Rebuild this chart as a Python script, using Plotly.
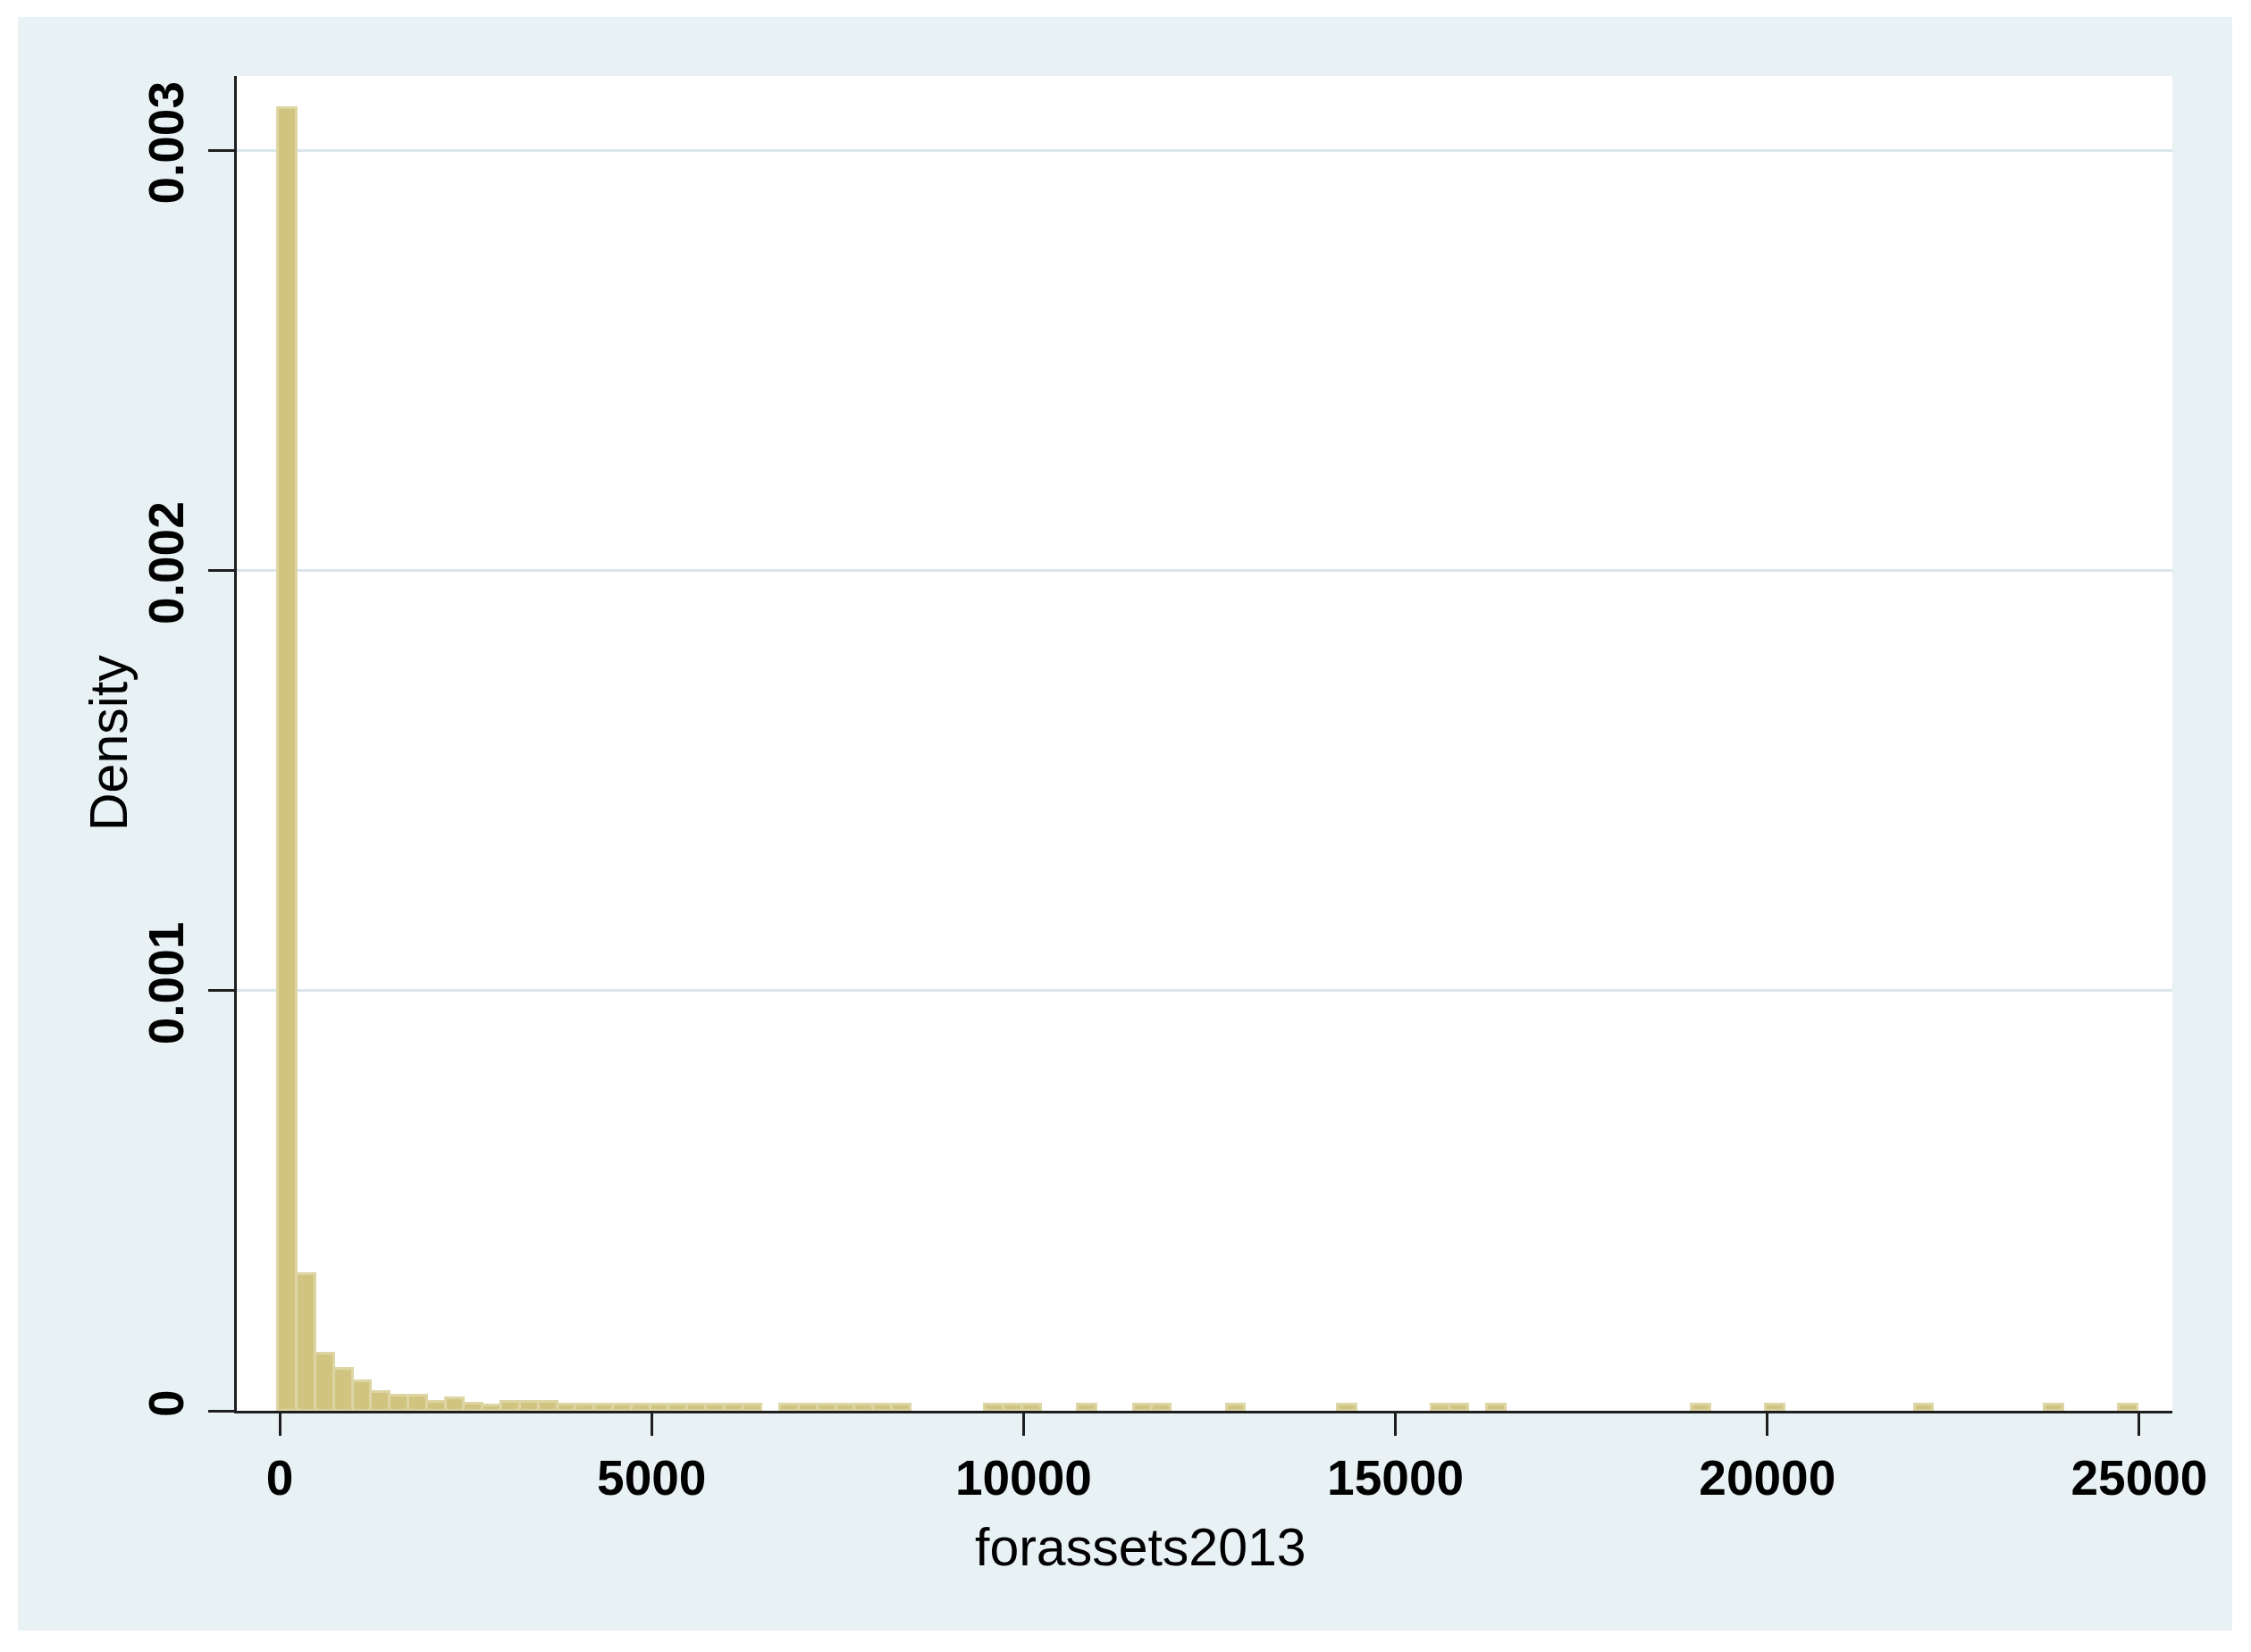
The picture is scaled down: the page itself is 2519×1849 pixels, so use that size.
import plotly.graph_objects as go

# ---------------- data ----------------
bin_width = 250  # width of each histogram bin (forassets2013 units)

# lower edge of every non-empty bin
bin_left = [-20, 230, 480, 730, 980, 1230, 1480, 1730, 1980, 2230, 2480, 2730, 2980,
            3230, 3480, 3730, 3980, 4230, 4480, 4730, 4980, 5230, 5480, 5730, 5980, 6230,
            6730, 6980, 7230, 7480, 7730, 7980, 8230,
            9480, 9730, 9980, 10730, 11480, 11730, 12730, 14230, 15480, 15730, 16230,
            18980, 19980, 21980, 23730, 24730]

# density of each bin
density = [0.003101, 0.000326, 0.0001365, 0.000101, 0.0000712, 0.0000436, 0.0000372,
           0.0000372, 0.0000223, 0.0000298, 0.0000160, 0.0000138, 0.0000213,
           0.0000213, 0.0000213, 0.0000149, 0.0000149, 0.0000149, 0.0000149, 0.0000149,
           0.0000149, 0.0000149, 0.0000149, 0.0000149, 0.0000149, 0.0000149,
           0.0000149, 0.0000149, 0.0000149, 0.0000149, 0.0000149, 0.0000149, 0.0000149,
           0.0000149, 0.0000149, 0.0000149, 0.0000149, 0.0000149, 0.0000149, 0.0000149,
           0.0000149, 0.0000149, 0.0000149, 0.0000149,
           0.0000149, 0.0000149, 0.0000149, 0.0000149, 0.0000149]

x_tickvals = [0, 5000, 10000, 15000, 20000, 25000]
x_ticktext = ["0", "5000", "10000", "15000", "20000", "25000"]
y_tickvals = [0, 0.001, 0.002, 0.003]
y_ticktext = ["0", "0.001", "0.002", "0.003"]

x_title = "forassets2013"
y_title = "Density"

# ---------------- styling ----------------
W, H = 2519, 1849
M_L, M_R, M_T, M_B = 265, 88, 85, 270
PW, PH = W - M_L - M_R, H - M_T - M_B

PANEL = "#E8F1F3"
GRID = "#DAE7EC"
AXIS = "#1E1E1E"
BAR_FILL = "#D0C480"
BAR_LINE = "#DED5A4"
FONT = "Liberation Sans, Arial, sans-serif"


def px_x(p):
    return (p - M_L) / PW


def px_y(p):
    return (H - M_B - p) / PH


fig = go.Figure()
fig.add_trace(go.Bar(
    x=bin_left,
    y=density,
    width=bin_width,
    offset=0,
    marker=dict(color=BAR_FILL, line=dict(color=BAR_LINE, width=3)),
    hoverinfo="x+y",
))

fig.update_layout(
    width=W, height=H,
    margin=dict(l=M_L, r=M_R, t=M_T, b=M_B, pad=0),
    paper_bgcolor="white",
    plot_bgcolor="white",
    showlegend=False,
    bargap=0,
    font=dict(family=FONT, color="black"),
    shapes=[
        dict(type="rect", xref="paper", yref="paper", layer="below",
             x0=px_x(20), x1=px_x(2498), y0=px_y(1825), y1=px_y(19),
             fillcolor=PANEL, line=dict(width=0)),
        dict(type="rect", xref="paper", yref="paper", layer="below",
             x0=0, x1=1, y0=0, y1=1,
             fillcolor="white", line=dict(width=0)),
    ],
    annotations=[
        dict(text=x_title, xref="paper", yref="paper", x=px_x(1276), y=px_y(1732),
             xanchor="center", yanchor="middle", showarrow=False,
             font=dict(family=FONT, size=59, color="black")),
        dict(text=y_title, xref="paper", yref="paper", x=px_x(122), y=0.5,
             xanchor="center", yanchor="middle", showarrow=False, textangle=-90,
             font=dict(family=FONT, size=59, color="black")),
    ],
)

fig.update_xaxes(
    range=[-577, 25445],
    tickmode="array", tickvals=x_tickvals, ticktext=x_ticktext,
    showgrid=False, zeroline=False,
    showline=True, linecolor=AXIS, linewidth=3,
    ticks="outside", ticklen=25, tickwidth=3, tickcolor=AXIS,
    tickfont=dict(family=FONT, size=55, color="black", weight="bold"),
)
fig.update_yaxes(
    range=[0, 0.0031765],
    tickmode="array", tickvals=y_tickvals, ticktext=y_ticktext,
    showgrid=True, gridcolor=GRID, gridwidth=3, zeroline=False,
    showline=True, linecolor=AXIS, linewidth=3,
    ticks="outside", ticklen=29, tickwidth=3, tickcolor=AXIS,
    tickangle=-90, ticklabelstandoff=6,
    tickfont=dict(family=FONT, size=55, color="black", weight="bold"),
)

fig.write_html(
    "out.html",
    config={"displayModeBar": False},
    post_script="document.body.style.margin='0';document.body.style.overflow='hidden';",
)
